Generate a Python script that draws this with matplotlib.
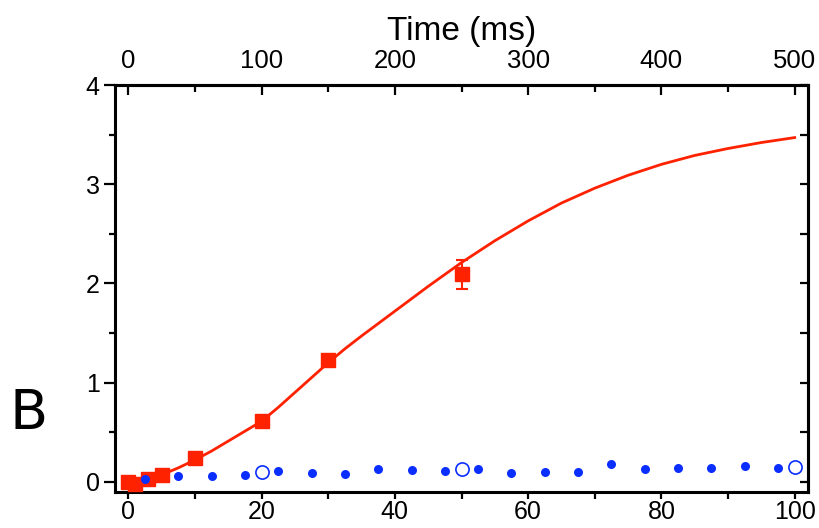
import matplotlib
matplotlib.use("Agg")
import matplotlib.pyplot as plt
from matplotlib.ticker import FixedLocator

plt.rcParams["font.family"] = ["Liberation Sans", "DejaVu Sans"]

# ── DATA ─────────────────────────────────────────────────
# red squares (measured) with error bars
red_x = [0, 1, 3, 5, 10, 20, 30, 50]
red_y = [0.0, -0.02, 0.03, 0.07, 0.24, 0.615, 1.23, 2.09]
red_err = [0.02, 0.02, 0.02, 0.02, 0.02, 0.02, 0.03, 0.15]

# fitted curve for the red series
fit_x = [0, 2.5, 5, 7.5, 10, 12.5, 15, 17.5, 20, 22.5, 25, 27.5, 30, 32.5,
         35, 40, 45, 50, 55, 60, 65, 70, 75, 80, 85, 90, 95, 100]
fit_y = [0.0, 0.03, 0.07, 0.14, 0.22, 0.31, 0.41, 0.51, 0.61, 0.75, 0.9,
         1.05, 1.2, 1.34, 1.47, 1.72, 1.97, 2.21, 2.43, 2.63, 2.81, 2.96,
         3.09, 3.2, 3.29, 3.36, 3.42, 3.47]

# blue filled dots
blue_x = [2.5, 7.5, 12.5, 17.5, 22.5, 27.5, 32.5, 37.5, 42.5, 47.5, 52.5,
          57.5, 62.5, 67.5, 72.5, 77.5, 82.5, 87.5, 92.5, 97.5]
blue_y = [0.03, 0.06, 0.06, 0.07, 0.11, 0.09, 0.08, 0.13, 0.12, 0.11, 0.125,
          0.085, 0.10, 0.10, 0.175, 0.125, 0.14, 0.135, 0.16, 0.14]

# blue open circles
open_x = [20, 50, 100]
open_y = [0.10, 0.125, 0.15]

# tick positions
x_major = [0, 20, 40, 60, 80, 100]
x_minor = [10, 30, 50, 70, 90]
y_major = [0, 1, 2, 3, 4]
y_minor = [0.5, 1.5, 2.5, 3.5]
ms_major = [0, 100, 200, 300, 400, 500]
ms_minor = [50, 150, 250, 350, 450]

RED = "#FF2200"
BLUE = "#0A2EFF"

fig = plt.figure(figsize=(8.19, 5.28), dpi=100)
ax = fig.add_axes([0.1404, 0.0688, 0.8462, 0.7702])

ax.plot(fit_x, fit_y, color=RED, linewidth=2.0, zorder=2)
ax.errorbar(red_x, red_y, yerr=red_err, fmt="s", color=RED, markersize=9.5,
            elinewidth=1.5, capsize=4, capthick=1.5, zorder=3)
ax.plot(blue_x, blue_y, "o", color=BLUE, markersize=6.5, markeredgewidth=0,
        zorder=4)
ax.plot(open_x, open_y, "o", markerfacecolor="white", markeredgecolor=BLUE,
        markersize=9.5, markeredgewidth=1.2, zorder=4)

ax.set_xlim(-2, 102)
ax.set_ylim(-0.1, 4)

for s in ax.spines.values():
    s.set_linewidth(2.2)

ax.xaxis.set_major_locator(FixedLocator(x_major))
ax.xaxis.set_minor_locator(FixedLocator(x_minor))
ax.yaxis.set_major_locator(FixedLocator(y_major))
ax.yaxis.set_minor_locator(FixedLocator(y_minor))

ax.tick_params(axis="x", which="both", direction="out", bottom=True, top=False,
               labelsize=18, pad=1)
ax.tick_params(axis="x", which="both", length=5, width=1.6)
ax.tick_params(axis="y", which="both", direction="out", left=True, right=False,
               labelsize=18, pad=3)
ax.tick_params(axis="y", which="major", length=8, width=1.6)
ax.tick_params(axis="y", which="minor", length=4, width=1.6)

# right side: inward ticks, no labels
ax_r = ax.secondary_yaxis("right")
ax_r.yaxis.set_major_locator(FixedLocator(y_major))
ax_r.yaxis.set_minor_locator(FixedLocator(y_minor))
ax_r.tick_params(which="both", direction="in", length=6, width=1.6, labelright=False)
ax_r.spines["right"].set_linewidth(2.2)

# top axis in milliseconds
ax_t = ax.secondary_xaxis("top", functions=(lambda x: x * 5, lambda t: t / 5))
ax_t.xaxis.set_major_locator(FixedLocator(ms_major))
ax_t.xaxis.set_minor_locator(FixedLocator(ms_minor))
ax_t.tick_params(which="both", direction="in", width=1.6, labelsize=18.5, pad=9)
ax_t.tick_params(which="major", length=7)
ax_t.tick_params(which="minor", length=5)
ax_t.spines["top"].set_linewidth(2.2)
ax_t.set_xlabel("Time (ms)", fontsize=24, labelpad=6)

fig.text(0.035, 0.215, "B", fontsize=40, ha="center", va="center",
         family=["DejaVu Sans"])

plt.savefig("out.png", dpi=100)
print("Saved out.png")
